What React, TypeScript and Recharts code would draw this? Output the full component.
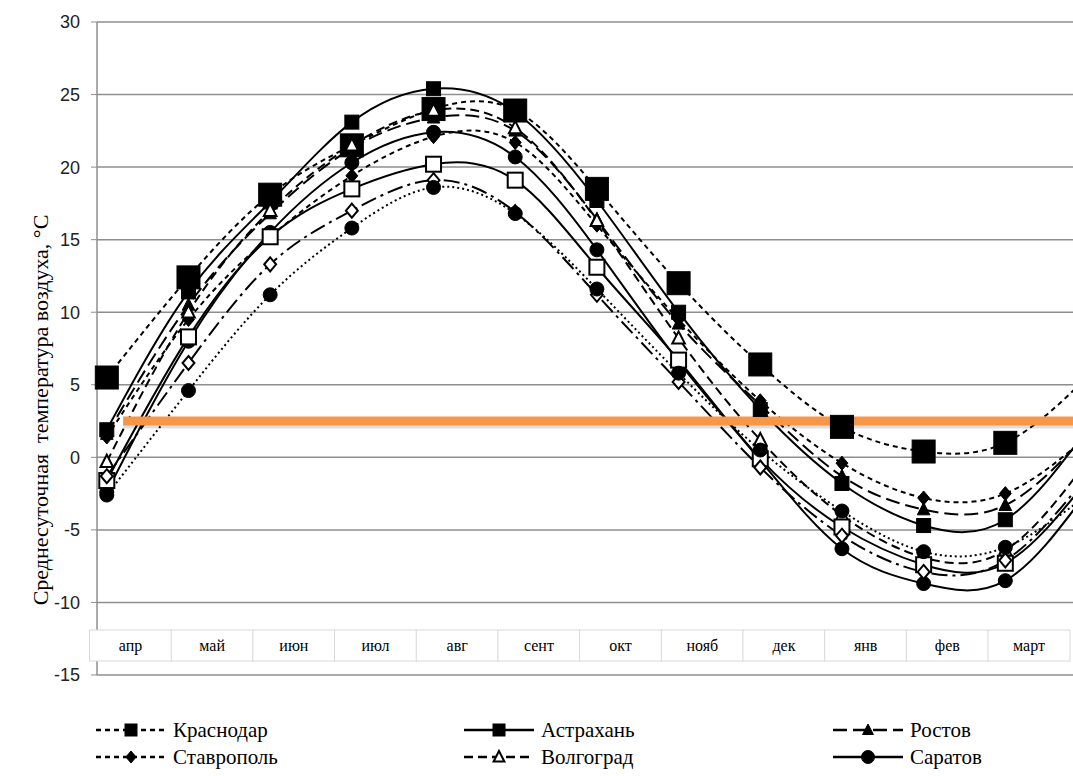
import React from "react";
import { LineChart, Line, XAxis, YAxis, CartesianGrid, ReferenceLine } from "recharts";

// month labels of the band under the plot
const months = ["апр", "май", "июн", "июл", "авг", "сент", "окт", "нояб", "дек", "янв", "фев", "март"];
// point positions; the 13th point repeats the first one and lies past the right edge
const pointIndex = [0, 1, 2, 3, 4, 5, 6, 7, 8, 9, 10, 11, 12];
const yTicks = [-15, -10, -5, 0, 5, 10, 15, 20, 25, 30];

const krasnodar = [5.5, 12.4, 18.1, 21.5, 24.0, 23.9, 18.5, 12.0, 6.4, 2.1, 0.4, 1.0, 5.5];
const astrakhan = [1.9, 11.4, 17.6, 23.1, 25.4, 23.8, 17.7, 10.0, 3.3, -1.8, -4.7, -4.3, 1.9];
const rostov = [1.6, 10.5, 16.8, 21.3, 23.4, 22.5, 16.4, 9.2, 3.6, -1.3, -3.6, -3.3, 1.6];
const stavropol = [1.4, 9.5, 15.2, 19.4, 22.1, 21.7, 16.0, 9.5, 3.9, -0.4, -2.8, -2.5, 1.4];
const volgograd = [-0.3, 10.0, 17.0, 21.5, 23.9, 22.7, 16.3, 8.2, 1.2, -4.0, -6.9, -6.4, -0.3];
const saratov = [-2.4, 8.0, 15.5, 20.3, 22.4, 20.7, 14.3, 6.6, -0.2, -6.3, -8.7, -8.5, -2.4];
const openSquareRow = [-1.6, 8.3, 15.2, 18.5, 20.2, 19.1, 13.1, 6.7, -0.1, -4.8, -7.4, -7.3, -1.6];
const openDiamondRow = [-1.3, 6.5, 13.3, 17.0, 19.1, 16.9, 11.2, 5.2, -0.7, -5.4, -7.9, -7.1, -1.3];
const dottedRow = [-2.6, 4.6, 11.2, 15.8, 18.6, 16.8, 11.6, 5.8, 0.5, -3.7, -6.5, -6.2, -2.6];

const threshold = 2.5;
const yTitle = "Среднесуточная  температура воздуха, °С";
const serif = "'Liberation Serif', 'Times New Roman', 'DejaVu Serif', serif";

type MarkerKind = "square" | "openSquare" | "triangle" | "openTriangle" | "diamond" | "openDiamond" | "circle";

interface SeriesDef {
  key: string;
  name: string;
  values: number[];
  dash?: string;
  marker: MarkerKind;
  size: number;
  inLegend: boolean;
}

const series: SeriesDef[] = [
  { key: "krasnodar", name: "Краснодар", values: krasnodar, dash: "5 4", marker: "square", size: 23, inLegend: true },
  { key: "astrakhan", name: "Астрахань", values: astrakhan, marker: "square", size: 14, inLegend: true },
  { key: "rostov", name: "Ростов", values: rostov, dash: "14 6", marker: "triangle", size: 14, inLegend: true },
  { key: "stavropol", name: "Ставрополь", values: stavropol, dash: "5 4", marker: "diamond", size: 14, inLegend: true },
  { key: "volgograd", name: "Волгоград", values: volgograd, dash: "9 5", marker: "openTriangle", size: 14, inLegend: true },
  { key: "saratov", name: "Саратов", values: saratov, marker: "circle", size: 14, inLegend: true },
  { key: "row7", name: "ряд 7", values: openSquareRow, marker: "openSquare", size: 15, inLegend: false },
  { key: "row8", name: "ряд 8", values: openDiamondRow, dash: "16 5 3 5", marker: "openDiamond", size: 14, inLegend: false },
  { key: "row9", name: "ряд 9", values: dottedRow, dash: "2 3", marker: "circle", size: 14, inLegend: false },
];

const rows = pointIndex.map((x, i) => {
  const row: Record<string, number> = { x };
  series.forEach((s) => (row[s.key] = s.values[i]));
  return row;
});

// label boxes sit a little right of each gridline
const bandTicks = months.map((_, i) => pointIndex[i] + 0.29);

function Marker({ kind, cx, cy, size }: { kind: MarkerKind; cx: number; cy: number; size: number }) {
  const h = size / 2;
  const open = kind.startsWith("open");
  const common = { fill: open ? "#fff" : "#000", stroke: "#000", strokeWidth: open ? 2 : 1 };
  if (kind === "square" || kind === "openSquare")
    return <rect x={cx - h} y={cy - h} width={size} height={size} {...common} />;
  if (kind === "triangle" || kind === "openTriangle")
    return <polygon points={`${cx},${cy - h} ${cx + h * 0.9},${cy + h * 0.75} ${cx - h * 0.9},${cy + h * 0.75}`} {...common} />;
  if (kind === "diamond" || kind === "openDiamond")
    return <polygon points={`${cx},${cy - h} ${cx + h * 0.85},${cy} ${cx},${cy + h} ${cx - h * 0.85},${cy}`} {...common} />;
  return <circle cx={cx} cy={cy} r={h} {...common} />;
}

// white box with the month name, drawn just above the bottom of the plot
function BandTick(props: any) {
  const { x, y, index } = props;
  return (
    <g>
      <rect x={x - 41} y={y - 45} width={82} height={31} fill="#fff" stroke="#d9d9d9" />
      <text x={x} y={y - 24} textAnchor="middle" fontFamily={serif} fontSize={16} fill="#000">
        {months[index]}
      </text>
    </g>
  );
}

function LegendSample({ s }: { s: SeriesDef }) {
  return (
    <svg width={70} height={20} style={{ display: "block" }}>
      <line x1={0} y1={10} x2={70} y2={10} stroke="#000" strokeWidth={2.5} strokeDasharray={s.dash} />
      <Marker kind={s.marker} cx={35} cy={10} size={s.marker === "circle" ? 13 : 12} />
    </svg>
  );
}

const legendColumns = [173, 541, 910];
const legendRows = [730, 757];

export default function App() {
  const shown = series.filter((s) => s.inLegend);
  return (
    <div style={{ position: "fixed", left: 0, top: 0, width: 1073, height: 776, overflow: "hidden", background: "#fff" }}>
      <LineChart width={1120} height={776} data={rows} margin={{ top: 22, right: 33, bottom: 71, left: 37 }}>
        <CartesianGrid xAxisId="x" stroke="#8e8e8e" strokeWidth={1.5} />
        <XAxis
          xAxisId="x"
          dataKey="x"
          type="number"
          domain={[-0.12, 12]}
          ticks={pointIndex}
          tick={false}
          tickLine={false}
          axisLine={false}
          height={0}
        />
        <XAxis
          xAxisId="band"
          dataKey="x"
          type="number"
          domain={[-0.12, 12]}
          ticks={bandTicks}
          interval={0}
          tick={<BandTick />}
          tickSize={0}
          tickMargin={0}
          tickLine={false}
          axisLine={false}
          height={30}
        />
        <YAxis
          type="number"
          domain={[-15, 30]}
          ticks={yTicks}
          width={60}
          axisLine={false}
          tickSize={6}
          tickMargin={11}
          tickLine={{ stroke: "#8e8e8e" }}
          tick={{ fill: "#222", fontSize: 18, fontFamily: "'Liberation Sans', Arial, sans-serif" }}
          label={{
            content: () => (
              <text
                transform="translate(40,410) rotate(-90)"
                textAnchor="middle"
                dominantBaseline="central"
                fontFamily={serif}
                fontSize={22}
                fill="#000"
                style={{ whiteSpace: "pre" }}
              >
                {yTitle}
              </text>
            ),
          }}
        />
        {series.map((s) => (
          <Line
            key={s.key}
            xAxisId="x"
            dataKey={s.key}
            name={s.name}
            type="natural"
            stroke="#000"
            strokeWidth={2}
            strokeDasharray={s.dash}
            isAnimationActive={false}
            dot={(p: any) => <Marker key={`${s.key}-${p.index}`} kind={s.marker} cx={p.cx} cy={p.cy} size={s.size} />}
            activeDot={false}
          />
        ))}
        <ReferenceLine
          xAxisId="x"
          segment={[{ x: 0.2, y: threshold - 0.28 }, { x: 12, y: threshold - 0.28 }]}
          stroke="rgba(0,0,0,0.13)"
          strokeWidth={7}
        />
        <ReferenceLine
          xAxisId="x"
          segment={[{ x: 0.2, y: threshold }, { x: 12, y: threshold }]}
          stroke="#F79646"
          strokeWidth={9}
        />
      </LineChart>
      {shown.map((s, i) => {
        const col = legendColumns[i % 3];
        const row = legendRows[Math.floor(i / 3)];
        return (
          <div
            key={s.key}
            style={{ position: "absolute", left: col - 77, top: row - 12, display: "flex", alignItems: "center", gap: 7 }}
          >
            <LegendSample s={s} />
            <span style={{ fontFamily: serif, fontSize: 21, color: "#000", lineHeight: "24px" }}>{s.name}</span>
          </div>
        );
      })}
    </div>
  );
}
